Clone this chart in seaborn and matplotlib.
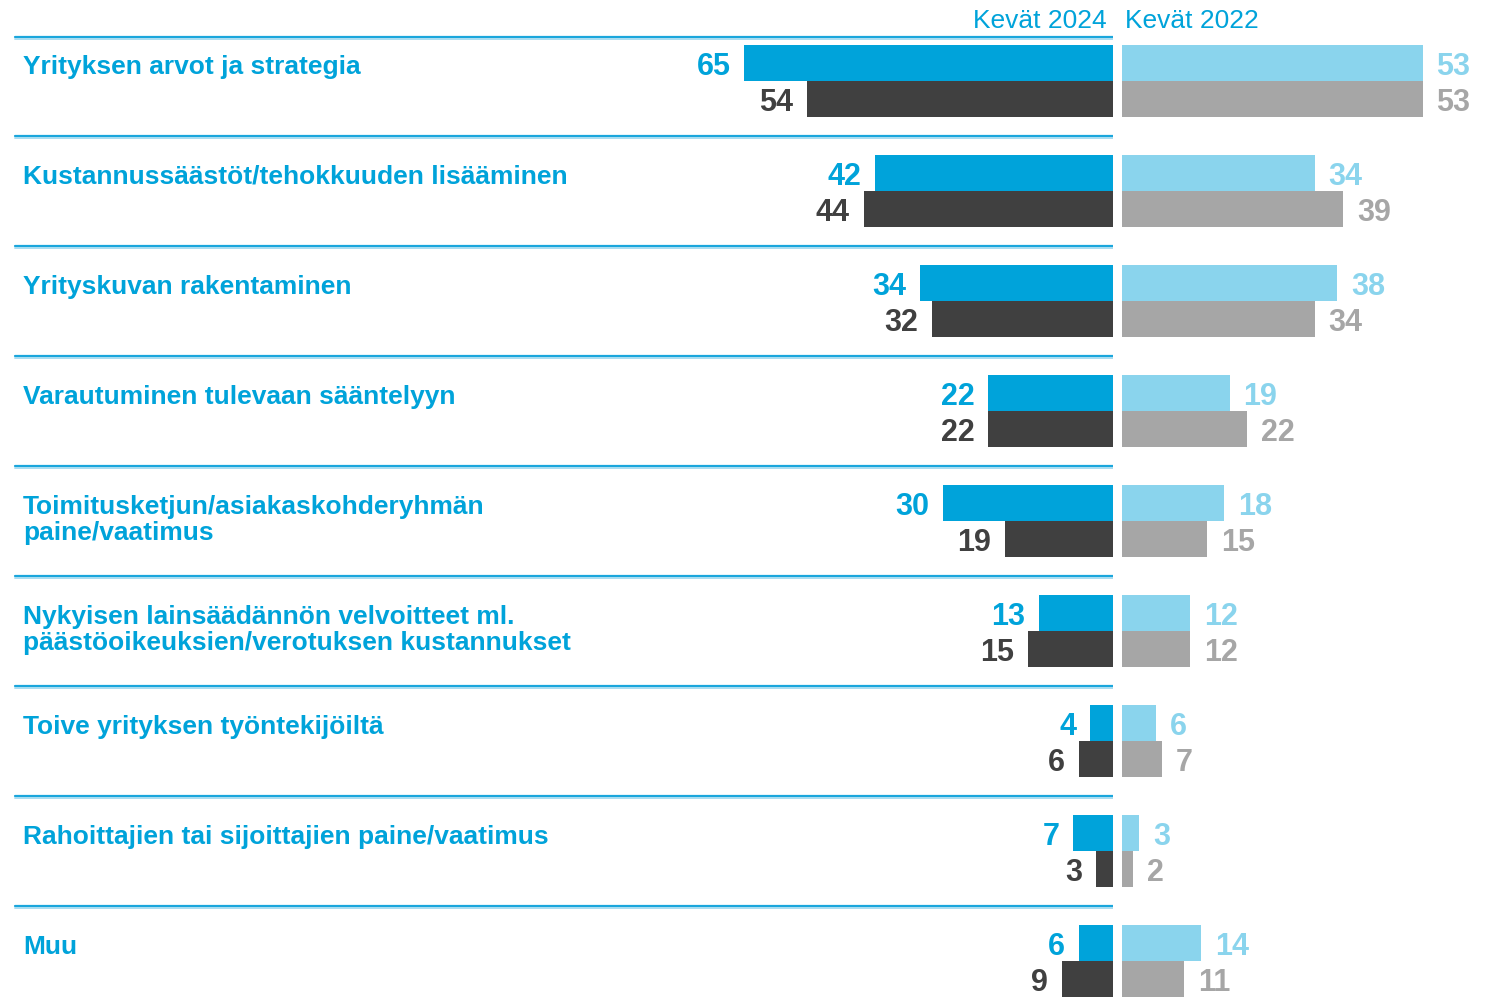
import pandas as pd
import matplotlib.pyplot as plt
import matplotlib.transforms as mtransforms
import seaborn as sns

# Aineisto (luettu kuvasta)
kategoriat = [
    "Yrityksen arvot ja strategia",
    "Kustannussäästöt/tehokkuuden lisääminen",
    "Yrityskuvan rakentaminen",
    "Varautuminen tulevaan sääntelyyn",
    "Toimitusketjun/asiakaskohderyhmän\npaine/vaatimus",
    "Nykyisen lainsäädännön velvoitteet ml.\npäästöoikeuksien/verotuksen kustannukset",
    "Toive yrityksen työntekijöiltä",
    "Rahoittajien tai sijoittajien paine/vaatimus",
    "Muu",
]
ryhmat = ["ryhmä 1", "ryhmä 2"]
kevat2024_ylä = [65, 42, 34, 22, 30, 13, 4, 7, 6]
kevat2024_ala = [54, 44, 32, 22, 19, 15, 6, 3, 9]
kevat2022_ylä = [53, 34, 38, 19, 18, 12, 6, 3, 14]
kevat2022_ala = [53, 39, 34, 22, 15, 12, 7, 2, 11]
otsikot = ["Kevät 2024", "Kevät 2022"]

SININEN = "#00A3DA"
TUMMA = "#404040"
VAALEANSININEN = "#8AD4ED"
HARMAA = "#A6A6A6"

sns.set_theme(style="white")
plt.rcParams['font.family'] = ['Liberation Sans', 'DejaVu Sans']


def pitka_muoto(yla, ala):
    return pd.DataFrame({
        "kategoria": kategoriat * 2,
        "ryhma": [ryhmat[0]] * len(yla) + [ryhmat[1]] * len(ala),
        "arvo": yla + ala,
    })


df_2024 = pitka_muoto(kevat2024_ylä, kevat2024_ala)
df_2022 = pitka_muoto(kevat2022_ylä, kevat2022_ala)

W, H = 1486, 997
fig = plt.figure(figsize=(W / 100, H / 100), dpi=100)

# pikseleinä: rivin korkeus 110, yksikkö 5.67 px
PX_PER_UNIT = 5.67
ROW = 110.0
ROW0 = 81.0
vasen_loppu = 1113
oikea_alku = 1122

ax_l = fig.add_axes([0, 0, vasen_loppu / W, 1])
ax_r = fig.add_axes([oikea_alku / W, 0, (W - oikea_alku) / W, 1])

sns.barplot(data=df_2024, y="kategoria", x="arvo", hue="ryhma", order=kategoriat,
            hue_order=ryhmat, palette=[SININEN, TUMMA], orient="h", width=72 / ROW,
            saturation=1, errorbar=None, legend=False, linewidth=0, ax=ax_l)
sns.barplot(data=df_2022, y="kategoria", x="arvo", hue="ryhma", order=kategoriat,
            hue_order=ryhmat, palette=[VAALEANSININEN, HARMAA], orient="h", width=72 / ROW,
            saturation=1, errorbar=None, legend=False, linewidth=0, ax=ax_r)

ylim = ((H - ROW0) / ROW, -ROW0 / ROW)
for ax in (ax_l, ax_r):
    ax.set_ylim(*ylim)
    ax.axis("off")
ax_l.set_xlim(vasen_loppu / PX_PER_UNIT, 0)
ax_r.set_xlim(0, (W - oikea_alku) / PX_PER_UNIT)

# arvot palkkien päihin
for ax, varit, suunta in ((ax_l, [SININEN, TUMMA], -1), (ax_r, [VAALEANSININEN, HARMAA], 1)):
    for cont, vari in zip(ax.containers, varit):
        for p in cont.patches:
            arvo = p.get_width()
            yc = p.get_y() + p.get_height() / 2
            ax.annotate(f"{arvo:.0f}", (arvo, yc), xytext=(suunta * 10, -0.5),
                        textcoords="offset points", ha="right" if suunta < 0 else "left",
                        va="center_baseline", fontsize=22, fontweight="bold", color=vari)

# erottimet ja kategoriat
trans = mtransforms.blended_transform_factory(ax_l.transAxes, ax_l.transData)
erottimet = [-44 / ROW] + [i + 0.5 for i in range(len(kategoriat) - 1)]
for y in erottimet:
    ax_l.axhline(y, xmin=15 / vasen_loppu, xmax=1, color="#1AA6DC", lw=1.6)
    ax_l.axhline(y + 2.2 / ROW, xmin=15 / vasen_loppu, xmax=1, color="#A8DDF1", lw=1.4)

for i, nimi in enumerate(kategoriat):
    for j, rivi in enumerate(nimi.split("\n")):
        ax_l.text(23 / vasen_loppu, i + (j * 26 - 7) / ROW, rivi, transform=trans,
                  ha="left", va="baseline", fontsize=19, fontweight="bold",
                  color=SININEN)

fig.text(1107 / W, 1 - 28 / H, otsikot[0], ha="right", va="baseline",
         fontsize=19, color=SININEN)
fig.text(1125 / W, 1 - 28 / H, otsikot[1], ha="left", va="baseline",
         fontsize=19, color=SININEN)

fig.savefig("out.png", dpi=100)
